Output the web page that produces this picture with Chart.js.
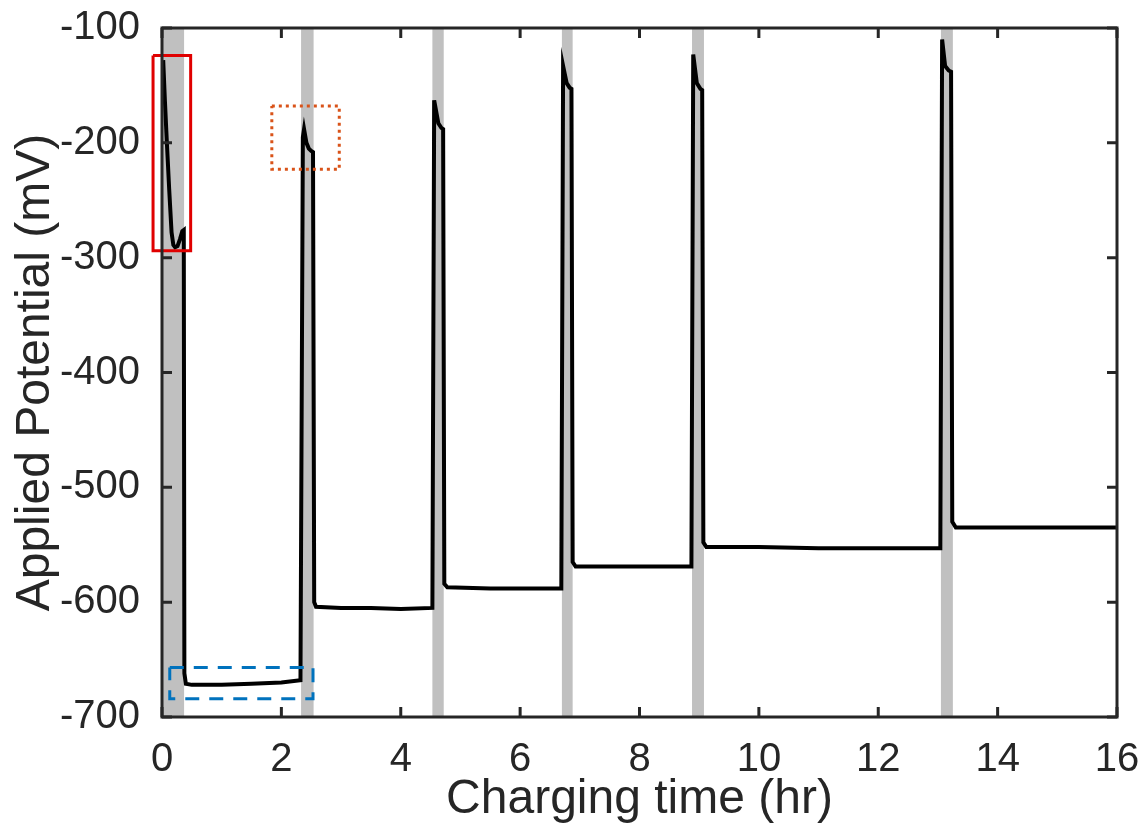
<!DOCTYPE html>
<html>
<head>
<meta charset="utf-8">
<script src="https://cdn.jsdelivr.net/npm/chart.js@4.4.1/dist/chart.umd.min.js"></script>
<style>
  html, body { margin: 0; padding: 0; background: #fff; }
  #wrap { width: 1145px; height: 829px; position: relative; }
</style>
</head>
<body>
<div id="wrap"><canvas id="potChart"></canvas></div>
<script>
// charging trace (time in hr, potential in mV)
const timeHr = [
  0.02, 0.05, 0.08, 0.12, 0.16, 0.19, 0.22, 0.26, 0.30, 0.34, 0.365,
  0.375, 0.40, 0.50, 1.00, 1.50, 2.00, 2.32,
  2.36, 2.38, 2.42, 2.46, 2.50, 2.53,
  2.55, 2.58, 3.00, 3.50, 4.00, 4.53,
  4.56, 4.63, 4.68, 4.71,
  4.73, 4.78, 5.50, 6.00, 6.69,
  6.72, 6.78, 6.83, 6.86,
  6.88, 6.93, 7.50, 8.00, 8.87,
  8.90, 8.96, 9.02, 9.05,
  9.07, 9.12, 10.0, 11.0, 12.0, 13.04,
  13.07, 13.12, 13.18, 13.22,
  13.24, 13.30, 14.0, 15.0, 16.0
];
const potentialMv = [
  -128, -165, -198, -240, -278, -289, -291, -290, -284, -277, -276,
  -662, -671, -672, -672, -671, -670, -668,
  -195, -188, -200, -205, -207, -208,
  -600, -604, -605, -605, -606, -605,
  -163, -183, -187, -188,
  -584, -587, -588, -588, -588,
  -133, -148, -152, -153,
  -565, -569, -569, -569, -569,
  -123, -148, -153, -154,
  -548, -552, -552, -553, -553, -553,
  -110, -133, -137, -138,
  -530, -535, -535, -535, -535
];

// shaded charging windows
const bandStart = [0, 2.33, 4.53, 6.70, 8.88, 13.05];
const bandEnd = [0.37, 2.54, 4.72, 6.88, 9.08, 13.25];

// highlight boxes [x0, x1] / [y0, y1]
const redBoxX = [-0.15, 0.48];
const redBoxY = [-124, -294];
const orangeBoxX = [1.84, 2.97];
const orangeBoxY = [-168, -223];
const blueBoxX = [0.13, 2.53];
const blueBoxY = [-657, -684];

const xTicks = [0, 2, 4, 6, 8, 10, 12, 14, 16];
const yTicks = [-700, -600, -500, -400, -300, -200, -100];

const FONT = "'Liberation Sans', Arial, Helvetica, sans-serif";
const INK = '#262626';

function boxPoints(bx, by) {
  return [
    { x: bx[0], y: by[0] }, { x: bx[1], y: by[0] },
    { x: bx[1], y: by[1] }, { x: bx[0], y: by[1] },
    { x: bx[0], y: by[0] }
  ];
}

const tracePoints = timeHr.map((t, i) => ({ x: t, y: potentialMv[i] }));

// grey bands behind the trace
const bandPlugin = {
  id: 'bands',
  beforeDatasetsDraw(chart) {
    const { ctx, chartArea, scales } = chart;
    ctx.save();
    ctx.fillStyle = '#c0c0c0';
    for (let i = 0; i < bandStart.length; i++) {
      const x0 = scales.x.getPixelForValue(bandStart[i]);
      const x1 = scales.x.getPixelForValue(bandEnd[i]);
      ctx.fillRect(x0, chartArea.top, x1 - x0, chartArea.bottom - chartArea.top);
    }
    ctx.restore();
  }
};

// matlab style box with inward ticks
const framePlugin = {
  id: 'frame',
  afterDatasetsDraw(chart) {
    const { ctx, chartArea, scales } = chart;
    const L = chartArea.left, R = chartArea.right, T = chartArea.top, B = chartArea.bottom;
    const len = 10;
    ctx.save();
    ctx.strokeStyle = INK;
    ctx.lineWidth = 3;
    ctx.beginPath();
    xTicks.forEach(v => {
      const px = scales.x.getPixelForValue(v);
      ctx.moveTo(px, B); ctx.lineTo(px, B - len);
      ctx.moveTo(px, T); ctx.lineTo(px, T + len);
    });
    yTicks.forEach(v => {
      const py = scales.y.getPixelForValue(v);
      ctx.moveTo(L, py); ctx.lineTo(L + len, py);
      ctx.moveTo(R, py); ctx.lineTo(R - len, py);
    });
    ctx.stroke();
    ctx.strokeRect(L, T, R - L, B - T);
    ctx.restore();
  }
};

const config = {
  type: 'scatter',
  data: {
    datasets: [
      {
        label: 'Applied potential',
        data: tracePoints,
        showLine: true,
        borderColor: '#000',
        borderWidth: 4,
        pointRadius: 0,
        tension: 0,
        order: 2
      },
      {
        label: 'red box',
        data: boxPoints(redBoxX, redBoxY),
        showLine: true,
        borderColor: '#e00000',
        borderWidth: 3,
        pointRadius: 0,
        clip: false,
        order: 1
      },
      {
        label: 'orange box',
        data: boxPoints(orangeBoxX, orangeBoxY),
        showLine: true,
        borderColor: '#d95319',
        borderWidth: 3,
        borderDash: [3, 4],
        pointRadius: 0,
        clip: false,
        order: 1
      },
      {
        label: 'blue box',
        data: boxPoints(blueBoxX, blueBoxY),
        showLine: true,
        borderColor: '#0072bd',
        borderWidth: 3,
        borderDash: [14, 10],
        pointRadius: 0,
        clip: false,
        order: 1
      }
    ]
  },
  options: {
    responsive: true,
    maintainAspectRatio: false,
    animation: false,
    layout: { padding: { top: 28, right: 28, left: 0, bottom: 0 } },
    plugins: {
      legend: { display: false },
      tooltip: { enabled: false }
    },
    scales: {
      x: {
        type: 'linear',
        min: 0,
        max: 16,
        afterBuildTicks: (scale) => { scale.ticks = xTicks.map(v => ({ value: v })); },
        afterFit: (scale) => {
          scale.height = 112;
          scale.paddingLeft = 0;
          scale.paddingRight = 0;
        },
        grid: { display: false },
        border: { display: false },
        ticks: { color: INK, padding: 11, font: { family: FONT, size: 40 } },
        title: {
          display: true,
          text: 'Charging time (hr)',
          color: INK,
          padding: { top: 0, bottom: 0 },
          font: { family: FONT, size: 48, lineHeight: 1.2 }
        }
      },
      y: {
        type: 'linear',
        min: -700,
        max: -100,
        afterBuildTicks: (scale) => { scale.ticks = yTicks.map(v => ({ value: v })); },
        afterFit: (scale) => {
          scale.width = 162;
          scale.paddingTop = 0;
          scale.paddingBottom = 0;
        },
        grid: { display: false },
        border: { display: false },
        ticks: { color: INK, padding: 14, font: { family: FONT, size: 40 } },
        title: {
          display: true,
          text: 'Applied Potential (mV)',
          color: INK,
          padding: { top: 7, bottom: 0 },
          font: { family: FONT, size: 48, lineHeight: 1.2 }
        }
      }
    }
  },
  plugins: [bandPlugin, framePlugin]
};

new Chart(document.getElementById('potChart'), config);
</script>
</body>
</html>
